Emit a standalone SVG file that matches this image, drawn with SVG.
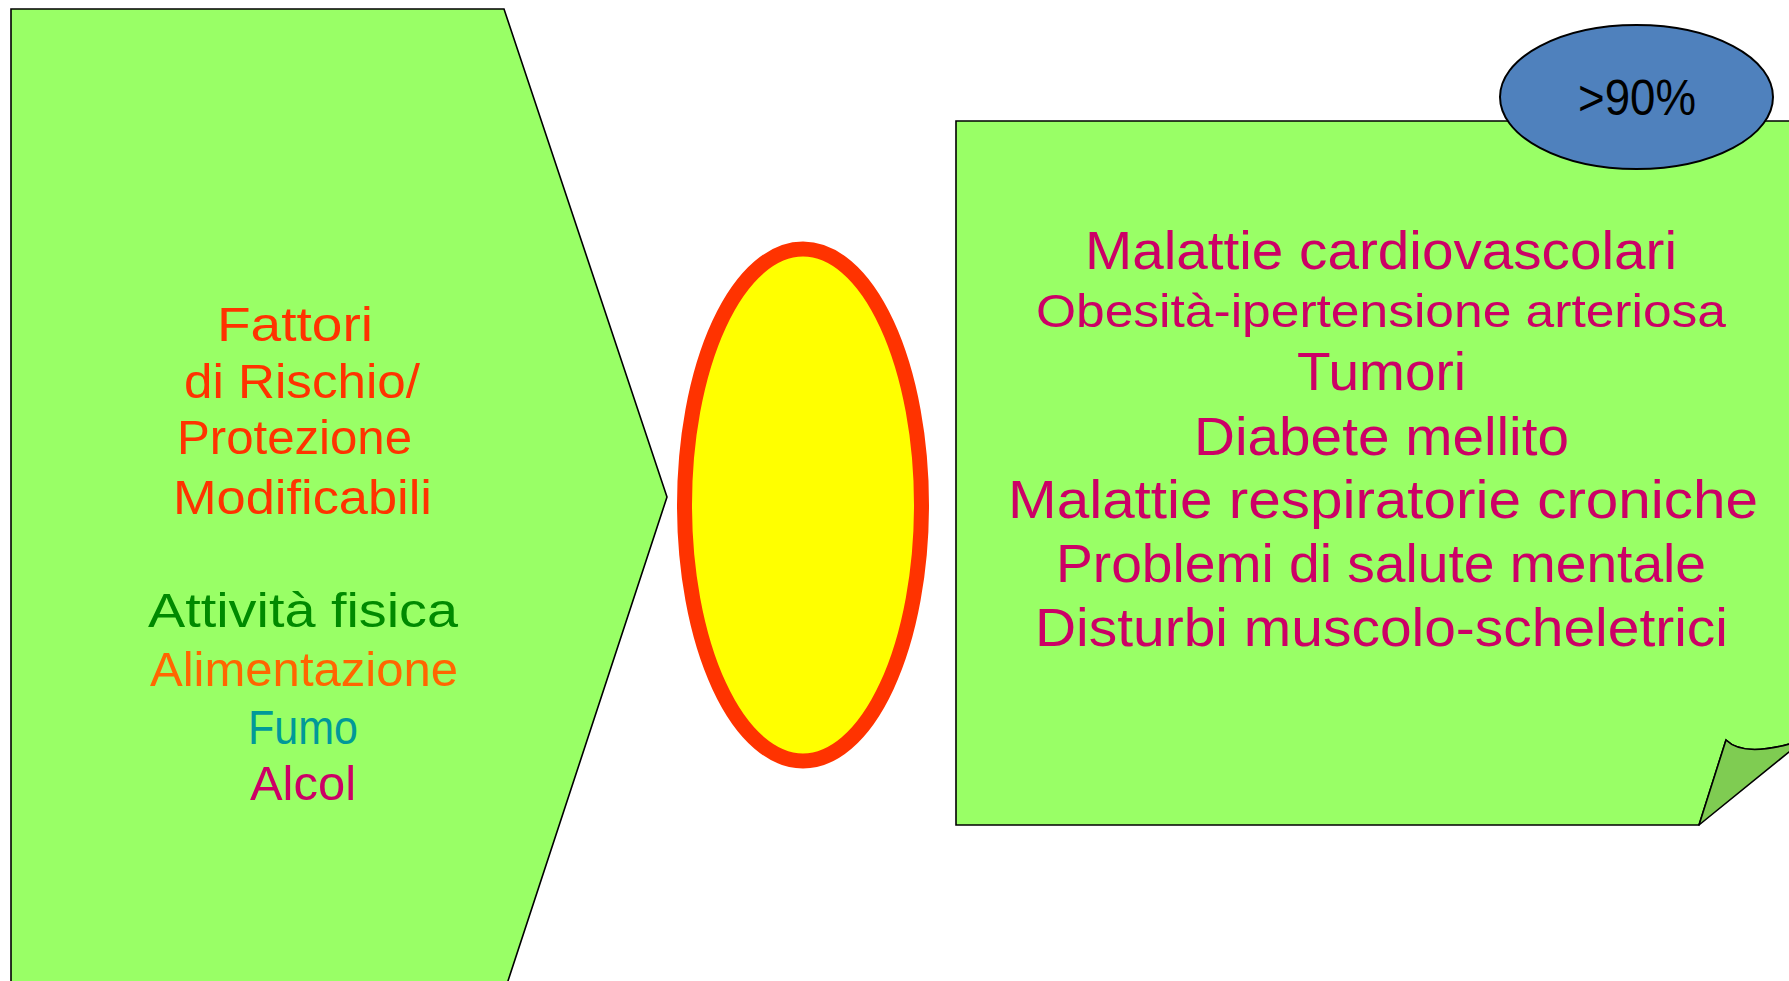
<svg xmlns="http://www.w3.org/2000/svg" width="1789" height="981" viewBox="0 0 1789 981">
<style>
.box{fill:#99FF66;stroke:#000;stroke-width:1.6}
.t{font-family:"Liberation Sans",Arial,sans-serif;text-anchor:middle}
.l{font-size:48px}
.r{font-size:53px;fill:#CC0066}
</style>
<rect width="1789" height="981" fill="#fff"/>
<g id="left">
<path class="box" d="M11,9 L504,9 L667,497 L505,990 L11,990 Z"/>
<g class="t l">
<text x="295" y="341" fill="#FF3300" textLength="156" lengthAdjust="spacingAndGlyphs">Fattori</text>
<text x="302" y="398" fill="#FF3300" textLength="236" lengthAdjust="spacingAndGlyphs">di Rischio/</text>
<text x="294.5" y="454" fill="#FF3300" textLength="235" lengthAdjust="spacingAndGlyphs">Protezione</text>
<text x="302.5" y="514" fill="#FF3300" textLength="259" lengthAdjust="spacingAndGlyphs">Modificabili</text>
<text x="303" y="627" fill="#008A00" textLength="310" lengthAdjust="spacingAndGlyphs">Attività fisica</text>
<text x="304" y="686" fill="#FF6600" textLength="308" lengthAdjust="spacingAndGlyphs">Alimentazione</text>
<text x="303" y="744" fill="#009999" textLength="110" lengthAdjust="spacingAndGlyphs">Fumo</text>
<text x="303" y="800" fill="#CC0066" textLength="106" lengthAdjust="spacingAndGlyphs">Alcol</text>
</g>
</g>
<g id="center">
<ellipse cx="803" cy="505" rx="118.5" ry="256" fill="#FFFF00" stroke="#FF3300" stroke-width="15"/>
</g>
<g id="right">
<path class="box" d="M956,121 H1800 V741 C1768,751 1740,754 1726,740 L1699,825 H956 Z"/>
<path d="M1699,825 L1726,740 C1740,754 1768,751 1800,741 L1800,743 Z" fill="#7FCC52" stroke="#000" stroke-width="1.6" stroke-linejoin="round"/>
<g class="t r">
<text x="1381" y="269" textLength="592" lengthAdjust="spacingAndGlyphs">Malattie cardiovascolari</text>
<text x="1381" y="327" font-size="46" textLength="690" lengthAdjust="spacingAndGlyphs">Obesità-ipertensione arteriosa</text>
<text x="1381.5" y="390" textLength="169" lengthAdjust="spacingAndGlyphs">Tumori</text>
<text x="1381.5" y="455" textLength="375" lengthAdjust="spacingAndGlyphs">Diabete mellito</text>
<text x="1383" y="518" textLength="750" lengthAdjust="spacingAndGlyphs">Malattie respiratorie croniche</text>
<text x="1381" y="582" textLength="650" lengthAdjust="spacingAndGlyphs">Problemi di salute mentale</text>
<text x="1381.5" y="646" textLength="693" lengthAdjust="spacingAndGlyphs">Disturbi muscolo-scheletrici</text>
</g>
</g>
<g id="badge">
<ellipse cx="1636.5" cy="97" rx="136.5" ry="72" fill="#4F81BD" stroke="#000" stroke-width="2"/>
<text class="t" x="1637" y="115" font-size="50" fill="#000" textLength="118" lengthAdjust="spacingAndGlyphs">&gt;90%</text>
</g>
</svg>
